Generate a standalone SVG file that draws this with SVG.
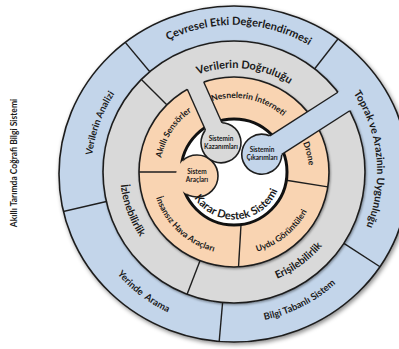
<svg xmlns="http://www.w3.org/2000/svg" width="399" height="349" viewBox="0 0 399 349">
<style>
.ln{stroke:#1e1e1e;stroke-width:1.4;fill:none}
.t{font-family:Lato,"Open Sans","Liberation Sans",sans-serif;font-weight:bold;fill:#1a1a1a}
.blue{fill:#c3d5ea}
.gray{fill:#d9d9d9}
.peach{fill:#f9d4b2}
</style>
<defs>
<filter id="sh" x="-10%" y="-10%" width="125%" height="125%"><feDropShadow dx="1.5" dy="2" stdDeviation="2" flood-color="#000" flood-opacity="0.45"/></filter>
<filter id="sh2" x="-10%" y="-10%" width="125%" height="125%"><feDropShadow dx="0.8" dy="1.2" stdDeviation="1.2" flood-color="#000" flood-opacity="0.4"/></filter>
<clipPath id="inW"><circle cx="234" cy="172" r="52"/></clipPath>
<clipPath id="outE"><ellipse cx="234" cy="174" rx="175" ry="168"/></clipPath>
<path id="p-cev" d="M90.2,141.4 A147,147 0 0 1 379.6,151.5"/>
<path id="p-ver" d="M134,143.3 A104,104 0 0 1 337.7,164.7"/>
<path id="p-nes" d="M165.4,144.3 A74,74 0 0 1 308,174.6"/>
<path id="p-aki" d="M183.5,226.1 A74,74 0 0 1 262.9,103.9"/>
<path id="p-dro" d="M228.8,97.2 A75,75 0 0 1 264.5,240.5"/>
<path id="p-top" d="M245.2,29.4 A143,143 0 0 1 272.2,309.8"/>
<path id="p-van" d="M162.5,295.8 A143,143 0 0 1 258.8,31.2"/>
<path id="p-izl" d="M176.1,73.8 A114,114 0 0 0 254.8,284.1"/>
<path id="p-yer" d="M95.9,101.6 A155,155 0 0 0 339.7,285.4"/>
<path id="p-bil" d="M113.4,262.9 A151,151 0 0 0 378.4,127.8"/>
<path id="p-eri" d="M154.1,254.7 A115,115 0 0 0 337.4,121.6"/>
<path id="p-uyd" d="M179.5,234.6 A83,83 0 0 0 306.6,131.8"/>
<path id="p-ins" d="M165.2,127.3 A82,82 0 0 0 283.3,237.5"/>
<path id="p-kar" d="M188.1,184.3 A47.5,47.5 0 0 0 281.3,176.1"/>
</defs>
<rect width="399" height="349" fill="#ffffff"/>

<text class="t" font-size="8.5" text-anchor="middle" transform="translate(17,163) rotate(-90)">Akıllı Tarımda Coğrafi Bilgi Sistemi</text>

<g id="ring-outer">
<ellipse class="blue" cx="234" cy="174" rx="175" ry="168" stroke="#1e1e1e" stroke-width="1.6" filter="url(#sh)"/>
<g clip-path="url(#outE)">
<line class="ln" x1="149.8" y1="71.7" x2="121.5" y2="37.9"/>
<line class="ln" x1="314.7" y1="68.8" x2="342" y2="33.8"/>
<line class="ln" x1="343.9" y1="243.3" x2="385" y2="270"/>
<line class="ln" x1="222.6" y1="302.5" x2="218.8" y2="346"/>
<line class="ln" x1="106.4" y1="201.5" x2="55" y2="213.4"/>
</g>
</g>
<g id="ring-mid">
<circle class="gray" cx="234" cy="172" r="131" stroke="#1e1e1e" stroke-width="1.6" filter="url(#sh2)"/>
<line class="ln" x1="166.8" y1="104.8" x2="141.4" y2="79.4"/>
<line class="ln" x1="200" y1="260.7" x2="187.1" y2="294.3"/>
</g>
<g id="ring-inner">
<circle class="peach" cx="234" cy="172" r="95" stroke="#1e1e1e" stroke-width="1.6" filter="url(#sh2)"/>
<line class="ln" x1="139" y1="172" x2="178" y2="172"/>
<line class="ln" x1="286.3" y1="180.3" x2="327.8" y2="186.9"/>
<line class="ln" x1="241" y1="225" x2="238.5" y2="267"/>
</g>
<g id="core">
<circle cx="234" cy="172" r="53" fill="#ffffff" stroke="#111" stroke-width="3"/>
</g>

<g id="sistem-araclari">
<circle class="peach" cx="197" cy="176" r="21"/>
<circle cx="197" cy="176" r="21" fill="none" stroke="#1e1e1e" stroke-width="1.6" clip-path="url(#inW)"/>
<text class="t" font-size="6.5" text-anchor="middle"><tspan x="197" y="174">Sistem</tspan><tspan x="197" y="182">Araçları</tspan></text>
</g>

<g id="sistemin-kazanimlari">
<g transform="translate(234,172) rotate(-114)">
<circle class="gray" cx="32" cy="0" r="20" stroke="#1e1e1e" stroke-width="1.6"/>
<rect class="gray" x="32" y="-9" width="68" height="18"/>
<line class="ln" x1="49.9" y1="-9" x2="94.6" y2="-9"/>
<line class="ln" x1="49.9" y1="9" x2="94.6" y2="9"/>
</g>
<text class="t" font-size="6.5" text-anchor="middle"><tspan x="221" y="141">Sistemin</tspan><tspan x="221" y="149">Kazanımları</tspan></text>
</g>

<g id="sistemin-cikarimlari">
<g transform="translate(234,172) rotate(-32.7)">
<circle class="blue" cx="33" cy="0" r="20" stroke="#1e1e1e" stroke-width="1.6"/>
<rect class="blue" x="33" y="-11" width="104" height="22"/>
<line class="ln" x1="49.7" y1="-11" x2="130.5" y2="-11"/>
<line class="ln" x1="49.7" y1="11" x2="130.5" y2="11"/>
</g>
<text class="t" font-size="6.5" text-anchor="middle"><tspan x="262" y="152">Sistemin</tspan><tspan x="262" y="160">Çıkarımları</tspan></text>
</g>

<g id="labels">
<text class="t" font-size="11"><textPath href="#p-cev" startOffset="50%" text-anchor="middle">Çevresel Etki Değerlendirmesi</textPath></text>
<text class="t" font-size="11"><textPath href="#p-ver" startOffset="50%" text-anchor="middle">Verilerin Doğruluğu</textPath></text>
<text class="t" font-size="8.5"><textPath href="#p-nes" startOffset="50%" text-anchor="middle">Nesnelerin İnterneti</textPath></text>
<text class="t" font-size="8.5"><textPath href="#p-aki" startOffset="50%" text-anchor="middle">Akıllı Sensörler</textPath></text>
<text class="t" font-size="8.5"><textPath href="#p-dro" startOffset="50%" text-anchor="middle">Drone</textPath></text>
<text class="t" font-size="10.5"><textPath href="#p-top" startOffset="50%" text-anchor="middle">Toprak ve Arazinin Uygunluğu</textPath></text>
<text class="t" font-size="9.5"><textPath href="#p-van" startOffset="50%" text-anchor="middle">Verilerin Analizi</textPath></text>
<text class="t" font-size="10.5"><textPath href="#p-izl" startOffset="50%" text-anchor="middle">İzlenebilirlik</textPath></text>
<text class="t" font-size="9.5" xml:space="preserve"><textPath href="#p-yer" startOffset="50%" text-anchor="middle">Yerinde  Arama</textPath></text>
<text class="t" font-size="9.5"><textPath href="#p-bil" startOffset="50%" text-anchor="middle">Bilgi Tabanlı Sistem</textPath></text>
<text class="t" font-size="10.5"><textPath href="#p-eri" startOffset="50%" text-anchor="middle">Erişilebilirlik</textPath></text>
<text class="t" font-size="8.5"><textPath href="#p-uyd" startOffset="50%" text-anchor="middle">Uydu Görüntüleri</textPath></text>
<text class="t" font-size="8.5"><textPath href="#p-ins" startOffset="50%" text-anchor="middle">İnsansız Hava Araçları</textPath></text>
<text class="t" font-size="11"><textPath href="#p-kar" startOffset="50%" text-anchor="middle">Karar Destek Sistemi</textPath></text>
</g>
</svg>
